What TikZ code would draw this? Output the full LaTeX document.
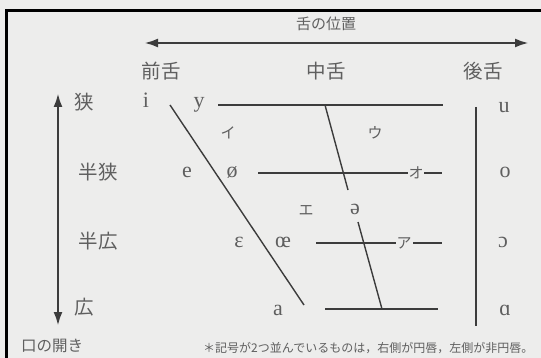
\documentclass[tikz,border=0pt]{standalone}
\usepackage{fontspec}
\setmainfont{Liberation Serif}
\newfontfamily\jp{Noto Sans CJK JP}
\usetikzlibrary{arrows.meta}
\definecolor{bgc}{RGB}{237,237,236}
\definecolor{ink}{RGB}{60,60,60}
\definecolor{txt}{RGB}{95,95,95}
\begin{document}
\begin{tikzpicture}[x=1pt,y=-1pt,
  lbl/.style={inner sep=0pt, text=txt, font=\jp\fontsize{19.5}{19.5}\selectfont},
  small/.style={inner sep=0pt, text=txt, font=\jp\fontsize{15}{15}\selectfont},
  vow/.style={inner sep=0pt, anchor=base, text=txt, font=\fontsize{22}{22}\selectfont},
  kana/.style={inner sep=0pt, text=txt, font=\jp\fontsize{15}{15}\selectfont},
  ln/.style={draw=ink, line width=1.4pt},
  darr/.style={draw=ink, line width=2.6pt, {Latex[length=14pt,width=9pt]}-{Latex[length=14pt,width=9pt]}},
]
\useasboundingbox (0,0) rectangle (541,358);
\fill[bgc] (0,0) rectangle (541,358);
% frame
\coordinate (f1) at (6.5,358);
\coordinate (f2) at (6.5,10.5);
\coordinate (f3) at (541,10.5);
\draw[black, line width=3pt] (f1) -- (f2) -- (f3);

% top axis
\node[small] (title) at (326,24) {舌の位置};
\coordinate (hl) at (144,43);
\coordinate (hr) at (529,43);
\draw[darr] (hl) -- (hr);
\node[lbl] (front) at (161,71) {前舌};
\node[lbl] (central) at (326,71) {中舌};
\node[lbl] (back) at (483,71) {後舌};

% left axis
\coordinate (vt) at (58,93);
\coordinate (vb) at (58,326);
\draw[darr] (vt) -- (vb);
\node[lbl] (r1) at (84,102) {狭};
\node[lbl] (r2) at (98,172) {半狭};
\node[lbl] (r3) at (98,241) {半広};
\node[lbl] (r4) at (84,307) {広};
\node[small, font=\jp\fontsize{15.5}{15.5}\selectfont] (mouth) at (52,346) {口の開き};

% vowels
\node[vow] (vi) at (146,108) {i};
\node[vow] (vy) at (199,108) {y};
\node[vow] (vu) at (504,113) {u};
\node[vow] (ve) at (187,178) {e};
\node[vow] (vo2) at (232,178) {ø};
\node[vow] (vo) at (505,178) {o};
\node[vow] (veps) at (239,248) {ɛ};
\node[vow] (voe) at (283,248) {œ};
\node[vow] (vopen) at (503,248) {ɔ};
\node[vow] (va) at (278,315) {a};
\node[vow] (vaa) at (505,315) {ɑ};
\node[vow] (vschwa) at (355,215) {ə};

% kana
\node[kana] (ki) at (228,133) {イ};
\node[kana] (ku) at (375,133) {ウ};
\node[kana] (ke) at (306,210) {エ};
\node[kana] (ko) at (416,173) {オ};
\node[kana] (ka) at (404,243) {ア};

% lines
\coordinate (l1a) at (218,105);
\coordinate (l1b) at (443,105);
\draw[ln] (l1a) -- (l1b);
\coordinate (l2a) at (258,173);
\coordinate (l2b) at (408,173);
\coordinate (l2c) at (424,173);
\coordinate (l2d) at (442,173);
\draw[ln] (l2a) -- (l2b);
\draw[ln] (l2c) -- (l2d);
\coordinate (l3a) at (316,243);
\coordinate (l3b) at (396,243);
\coordinate (l3c) at (413,243);
\coordinate (l3d) at (442,243);
\draw[ln] (l3a) -- (l3b);
\draw[ln] (l3c) -- (l3d);
\coordinate (l4a) at (325,309);
\coordinate (l4b) at (438,309);
\draw[ln] (l4a) -- (l4b);
\coordinate (rb1) at (476,107);
\coordinate (rb2) at (476,326);
\draw[ln] (rb1) -- (rb2);
\coordinate (d1) at (170,105);
\coordinate (d2) at (304,305);
\draw[ln] (d1) -- (d2);
\coordinate (c1a) at (325,105);
\coordinate (c1b) at (348,190);
\draw[ln] (c1a) -- (c1b);
\coordinate (c2a) at (358,222);
\coordinate (c2b) at (382,309);
\draw[ln] (c2a) -- (c2b);

% footnote
\node[inner sep=0pt, anchor=west, text=txt, font=\jp\fontsize{12}{12}\selectfont] (note) at (203,348) {＊記号が2つ並んでいるものは，右側が円唇，左側が非円唇。};
\end{tikzpicture}
\end{document}
